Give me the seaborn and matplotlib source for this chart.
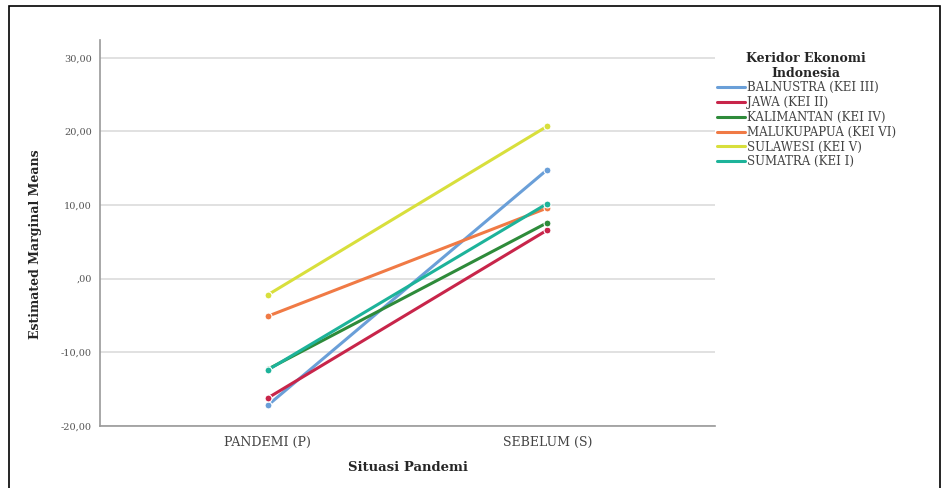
import numpy as np
import pandas as pd
import matplotlib.pyplot as plt
import seaborn as sns
from matplotlib.patches import Rectangle
from matplotlib.ticker import FuncFormatter

# data
situasi = ["PANDEMI (P)", "SEBELUM (S)"]
koridor = ["BALNUSTRA (KEI III)", "JAWA (KEI II)", "KALIMANTAN (KEI IV)",
           "MALUKUPAPUA (KEI VI)", "SULAWESI (KEI V)", "SUMATRA (KEI I)"]
pandemi = [-17.2, -16.2, -12.3, -5.1, -2.2, -12.4]
sebelum = [14.8, 6.6, 7.6, 9.6, 20.7, 10.2]
warna = ["#6a9fd8", "#c8254a", "#2e8b3a", "#f07a45", "#d8df3c", "#1db39a"]

df = pd.DataFrame({
    "Situasi": situasi * len(koridor),
    "Koridor": np.repeat(koridor, 2),
    "Mean": np.ravel(np.column_stack([pandemi, sebelum])),
})

sns.set_style("white")
plt.rcParams['font.family'] = ['DejaVu Serif']

fig = plt.figure(figsize=(9.41, 4.88), dpi=100)
ax = fig.add_axes([100/941, 62/488, 615/941, 386/488])

sns.lineplot(data=df, x="Situasi", y="Mean", hue="Koridor",
             palette=dict(zip(koridor, warna)), marker="o", markersize=5,
             markeredgewidth=0.8, linewidth=2.2, ax=ax)

ax.set_xlim(-0.6, 1.6)
ax.set_ylim(-20, 32.4)
ax.set_yticks([-20, -10, 0, 10, 20, 30])
ax.yaxis.set_major_formatter(FuncFormatter(
    lambda v, p: ",00" if v == 0 else f"{v:.2f}".replace(".", ",")))
ax.yaxis.grid(True, color="#dcdcdc", linewidth=1.2)
ax.tick_params(axis="y", labelsize=7, colors="#555555", length=4, pad=2)
ax.tick_params(axis="x", labelsize=9, colors="#444444", length=0, pad=7)
for s in ["top", "right"]:
    ax.spines[s].set_visible(False)
for s in ["left", "bottom"]:
    ax.spines[s].set_color("#999999")
    ax.spines[s].set_linewidth(1.2)

ax.set_xlabel("Situasi Pandemi", fontsize=9.5, fontweight="bold", labelpad=9)
ax.set_ylabel("Estimated Marginal Means", fontsize=9, fontweight="bold")
ax.yaxis.set_label_coords(-0.095, 0.47)

handles, labels = ax.get_legend_handles_labels()
ax.get_legend().remove()
for h in handles:
    h.set_marker("")
leg = fig.legend(handles, labels, title="Keridor Ekonomi\nIndonesia",
                 loc="upper left", bbox_to_anchor=(706/941, 1 - 41/488),
                 frameon=False, fontsize=8.5, handlelength=2.4,
                 handletextpad=0.15, labelspacing=0.15)
leg.set_alignment("center")
leg.get_title().set_fontweight("bold")
leg.get_title().set_fontsize(9)
leg.get_title().set_multialignment("center")
for t in leg.get_texts():
    t.set_color("#444444")

# frame around the whole picture
fig.patches.append(Rectangle((9/941, -0.1), 931/941, 1.1 - 6/488,
                             transform=fig.transFigure, fill=False,
                             edgecolor="black", linewidth=1.2))

fig.savefig("out.png", dpi=100)
